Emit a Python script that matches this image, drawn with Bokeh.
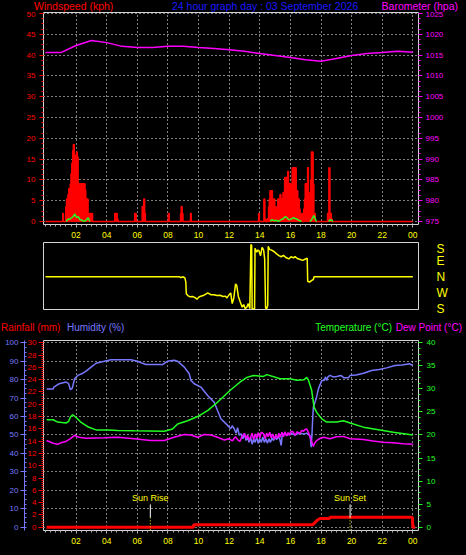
import math
from bokeh.plotting import figure
from bokeh.layouts import column
from bokeh.models import Range1d, LinearAxis, FixedTicker, GlobalInlineStyleSheet, Div
from bokeh.core.properties import value
from bokeh.embed import file_html
from bokeh.resources import INLINE

NaN = float("nan")

# ------------------------------------------------------------------ data
DATE_TITLE = "24 hour graph day : 03 September 2026"
hour_ticks = [2, 4, 6, 8, 10, 12, 14, 16, 18, 20, 22, 24]
hour_labels = ["02", "04", "06", "08", "10", "12", "14", "16", "18", "20", "22", "00"]

wind_ticks = [0, 5, 10, 15, 20, 25, 30, 35, 40, 45, 50]
baro_ticks = [975, 980, 985, 990, 995, 1000, 1005, 1010, 1015, 1020, 1025]
dir_ticks = [-180, -90, 0, 90, 180]
dir_labels = ["S", "W", "N", "E", "S"]
rain_ticks = [0, 2, 4, 6, 8, 10, 12, 14, 16, 18, 20, 22, 24, 26, 28, 30]
hum_ticks = [0, 10, 20, 30, 40, 50, 60, 70, 80, 90, 100]
temp_ticks = [0, 5, 10, 15, 20, 25, 30, 35, 40]

# wind gusts (kph), 3-minute samples, only non-zero samples listed
gust_t = [1.15, 1.35, 1.40, 1.45, 1.50, 1.55, 1.60, 1.65, 1.70, 1.75,
          1.80, 1.85, 1.90, 1.95, 2.00, 2.05, 2.10, 2.15, 2.20, 2.25,
          2.30, 2.35, 2.40, 2.45, 2.50, 2.55, 2.60, 2.65, 2.70, 2.75,
          2.80, 2.85, 2.90, 2.95, 3.00, 3.05, 4.55, 4.60, 4.65, 4.70,
          5.85, 5.90, 6.35, 6.40, 6.45, 6.50, 8.05, 8.85, 8.90, 8.95,
          9.50, 13.95, 14.30, 14.35, 14.50, 14.60, 14.65, 14.70, 14.75, 14.80,
          14.85, 14.90, 14.95, 15.00, 15.05, 15.10, 15.15, 15.20, 15.25, 15.30,
          15.35, 15.40, 15.45, 15.50, 15.55, 15.60, 15.65, 15.70, 15.75, 15.80,
          15.85, 15.90, 15.95, 16.00, 16.05, 16.10, 16.15, 16.20, 16.25, 16.30,
          16.35, 16.40, 16.45, 16.50, 16.55, 16.60, 16.65, 16.70, 16.75, 16.90,
          16.95, 17.00, 17.05, 17.10, 17.15, 17.20, 17.25, 17.30, 17.35, 17.40,
          17.45, 17.50, 17.55, 17.60, 18.45, 18.50, 18.55, 18.60, 18.65, 18.70]
gust_v = [1.9, 3.5, 5.4, 4.0, 6.5, 7.9, 5.5, 9.0, 11.5, 14.0,
          17.0, 18.5, 16.0, 7.5, 12.0, 16.7, 15.5, 9.0, 6.5, 9.1,
          9.1, 7.0, 9.1, 9.1, 6.0, 9.1, 7.5, 5.4, 3.5, 5.4,
          1.9, 0.6, 1.9, 1.9, 0.6, 1.9, 1.9, 1.9, 1.9, 0.6,
          1.9, 1.9, 3.6, 3.6, 5.4, 1.9, 1.9, 1.9, 3.6, 1.9,
          1.9, 1.9, 5.4, 0.6, 0.6, 3.5, 5.4, 7.4, 6.0, 7.4,
          5.4, 4.0, 5.4, 3.5, 3.5, 2.5, 3.5, 5.4, 4.5, 5.4,
          6.5, 5.4, 4.0, 5.4, 7.0, 5.4, 10.6, 9.5, 10.6, 9.1,
          12.0, 9.1, 7.4, 9.1, 6.0, 8.0, 12.9, 10.0, 12.9, 11.0,
          12.9, 7.4, 7.4, 5.4, 5.4, 3.0, 1.9, 1.9, 1.9, 3.0,
          5.4, 9.1, 7.4, 9.1, 12.9, 7.0, 5.4, 5.4, 10.0, 16.7,
          16.7, 9.0, 1.9, 1.9, 1.9, 1.9, 12.9, 1.9, 1.9, 0.6]
GUST_STEP = 0.05

# average wind speed (kph), gaps where calm
avg_t = [1.36, 1.45, 1.6, 1.71, 1.81, 1.92, 2.03, 2.14, 2.25, 2.35,
         2.46, 2.57, 2.68, 2.79, 2.9, NaN, 14.7, 14.76, 14.99, 15.1,
         15.21, 15.36, 15.5, 15.68, 15.9, 16.07, 16.18, 16.4, 16.5, 16.61,
         16.72, NaN, 17.26, 17.37, 17.53, 17.6, 17.7, NaN, 18.5, 18.58,
         18.7, 18.78]
avg_v = [0, 0.5, 0.6, 0.9, 1.2, 1.8, 0.9, 1.2, 0.4, 0.4,
         0.1, 0.1, 0.4, 0.9, 0, NaN, 0, 0.4, 0.2, 0.3,
         0.0, 0.4, 0.6, 1.2, 0.4, 0.6, 0.9, 0.6, 0.4, 0.2,
         0, NaN, 0, 0.3, 1.4, 0.9, 0, NaN, 0, 0.4,
         0.3, 0]

# barometer (hPa), hourly
baro_t = [0, 1, 2, 3, 4, 5, 6, 7, 8, 9, 10, 11, 12,
          13, 14, 15, 16, 17, 18, 19, 20, 21, 22, 23, 24]
baro_v = [1015.6, 1015.6, 1017.3, 1018.5, 1018.0, 1017.1, 1016.8, 1016.8, 1017.1, 1017.1,
          1016.8, 1016.6, 1016.3, 1015.9, 1015.4, 1014.9, 1014.4, 1013.9, 1013.5, 1014.2,
          1014.9, 1015.4, 1015.6, 1015.9, 1015.7]

# wind direction (degrees, N = 0, E = 90, W = -90, S = +/-180)
dir_t = [0.0, 8.76, 8.85, 8.95, 9.1, 9.17, 9.2, 9.3, 9.45, 9.6,
         9.75, 9.9, 10.0, 10.1, 10.3, 10.5, 10.6, 10.8, 11.0, 11.2,
         11.4, 11.6, 11.75, 11.85, 12.0, 12.1, 12.2, 12.3, 12.42, 12.5,
         12.6, 12.72, 12.85, 12.95, 13.05, 13.15, 13.25, 13.35, 13.42, 13.47,
         13.5, 13.6, 13.66, 13.69, 13.8, 13.88, 13.95, 14.05, 14.15, 14.25,
         14.32, 14.38, 14.45, 14.52, 14.55, 14.65, 14.8, 14.95, 15.1, 15.25,
         15.4, 15.55, 15.7, 15.9, 16.05, 16.2, 16.3, 16.45, 16.6, 16.8,
         16.95, 17.1, 17.13, 17.25, 17.4, 17.5, 17.55, 24.0]
dir_v = [0, 0, -5, 0, -5, -30, -95, -105, -112, -110,
         -115, -125, -115, -110, -105, -95, -90, -100, -100, -105,
         -103, -110, -108, -118, -100, -90, -150, -120, -40, -50,
         -110, -140, -170, -155, -178, -170, -150, -178, 180, 175,
         -178, -178, -178, 160, 138, 150, 145, 118, 165, 150,
         100, -175, -178, -160, 170, 152, 148, 140, 128, 118,
         112, 120, 108, 100, 112, 106, 113, 102, 98, 92,
         98, 104, -25, -30, -20, -15, 0, 0]

# rainfall (mm, cumulative)
rain_t = [0.07, 9.65, 9.7, 17.45, 17.55, 17.7, 17.85, 17.95, 18.55, 18.6, 23.97, 24.0, 24.15]
rain_v = [0.0, 0.0, 0.4, 0.4, 0.6, 1.0, 1.3, 1.4, 1.4, 1.6, 1.6, 0.0, 0.0]

# humidity (%)
hum_t = [0.07, 0.5, 0.55, 0.9, 1.34, 1.5, 1.63, 1.75, 1.9, 2.11,
         2.44, 2.65, 2.98, 3.3, 3.85, 4.28, 5.58, 6.02, 6.3, 6.56,
         7.65, 7.98, 8.4, 8.63, 9.07, 9.39, 9.5, 9.72, 10.15, 10.59,
         11.02, 11.24, 11.46, 11.9, 12.1, 12.2, 12.33, 12.45, 12.55, 12.65,
         12.77, 12.9, 13.0, 13.1, 13.2, 13.3, 13.4, 13.5, 13.6, 13.7,
         13.8, 13.9, 14.0, 14.1, 14.2, 14.3, 14.4, 14.5, 14.6, 14.7,
         14.8, 14.9, 15.0, 15.1, 15.2, 15.3, 15.4, 15.45, 15.55, 15.8,
         16.0, 16.3, 16.6, 16.9, 17.07, 17.2, 17.29, 17.36, 17.42, 17.45,
         17.5, 17.68, 17.75, 17.83, 18.05, 18.2, 18.3, 18.37, 18.45, 18.59,
         18.8, 19.03, 19.3, 19.5, 19.79, 19.9, 20.3, 20.77, 21.31, 21.8,
         22.29, 22.83, 23.3, 23.8, 23.9, 24.0]
hum_v = [75.0, 75.0, 76.0, 77.8, 78.7, 78.0, 74.5, 75.4, 80.5, 82.3,
         83.5, 84.6, 86.8, 88.9, 90.0, 90.8, 90.8, 90.0, 89.0, 88.2,
         88.2, 90.0, 90.5, 90.0, 86.8, 83.2, 79.6, 77.8, 76.0, 71.4,
         67.8, 63.3, 58.8, 55.2, 53.4, 55.0, 53.4, 51.0, 54.0, 50.0,
         50.6, 48.0, 51.0, 47.0, 49.0, 46.0, 48.8, 45.0, 48.0, 46.0,
         49.0, 45.5, 48.0, 46.0, 49.0, 46.0, 48.0, 45.5, 48.0, 46.0,
         48.5, 47.0, 49.0, 47.5, 49.0, 48.0, 44.3, 49.0, 50.6, 50.0,
         51.0, 50.0, 51.0, 50.6, 51.0, 50.0, 49.5, 43.4, 52.0, 57.9,
         65.0, 69.6, 72.0, 75.0, 79.6, 79.6, 81.5, 79.6, 81.5, 82.3,
         81.5, 81.7, 82.3, 81.0, 81.0, 82.3, 82.5, 83.5, 85.0, 85.5,
         86.4, 87.7, 88.0, 88.6, 88.0, 88.2]

# temperature (degC)
temp_t = [0.07, 0.5, 0.8, 1.34, 1.5, 1.63, 1.78, 2.0, 2.3, 2.76,
          3.3, 4.06, 4.71, 5.8, 7.76, 8.3, 8.63, 9.28, 9.94, 10.59,
          11.24, 12.07, 12.72, 13.16, 13.59, 14.24, 14.46, 15.33, 15.98, 16.42,
          16.9, 17.07, 17.18, 17.39, 17.55, 17.72, 18.05, 18.37, 19.03, 19.46,
          19.9, 20.77, 21.85, 22.72, 24.0]
temp_v = [23.3, 23.3, 22.8, 22.6, 22.9, 23.9, 24.4, 23.8, 22.8, 21.8,
          21.1, 21.1, 21.0, 20.9, 20.8, 21.3, 22.4, 23.1, 24.0, 25.3,
          27.1, 29.7, 31.5, 32.5, 32.9, 32.7, 33.1, 32.2, 32.2, 31.9,
          32.0, 32.5, 31.9, 29.7, 26.0, 24.9, 23.5, 22.8, 22.8, 23.1,
          22.6, 21.7, 21.1, 20.6, 20.0]

# dew point (degC)
dew_t = [0.07, 0.5, 0.8, 1.0, 1.34, 1.63, 1.9, 2.2, 2.65, 3.85,
         4.71, 5.8, 6.87, 7.76, 8.4, 9.07, 9.5, 9.94, 10.37, 10.8,
         11.24, 11.68, 12.0, 12.2, 12.4, 12.55, 12.7, 12.85, 13.0, 13.1,
         13.2, 13.3, 13.4, 13.5, 13.6, 13.7, 13.8, 13.9, 14.0, 14.1,
         14.24, 14.35, 14.45, 14.55, 14.65, 14.75, 14.85, 14.95, 15.05, 15.15,
         15.25, 15.33, 15.45, 15.55, 15.65, 15.75, 15.85, 15.95, 16.05, 16.2,
         16.3, 16.45, 16.6, 16.75, 16.85, 16.95, 17.07, 17.2, 17.29, 17.4,
         17.5, 17.6, 17.72, 17.9, 18.16, 18.59, 19.0, 19.46, 19.9, 20.77,
         21.4, 22.07, 22.7, 23.37, 24.0]
dew_v = [18.8, 18.2, 18.0, 18.3, 18.6, 19.2, 19.9, 19.5, 19.3, 19.4,
         19.5, 19.2, 18.8, 18.8, 19.5, 20.1, 20.0, 19.5, 20.1, 20.0,
         19.5, 18.9, 19.2, 18.7, 19.6, 19.0, 18.6, 19.8, 20.3, 19.2,
         20.0, 18.9, 19.5, 20.4, 19.0, 20.2, 19.3, 20.5, 19.4, 20.6,
         20.3, 19.2, 20.4, 19.6, 20.6, 19.4, 20.2, 19.1, 20.0, 19.3,
         20.4, 19.5, 20.6, 19.6, 20.7, 19.8, 20.5, 19.9, 20.8, 20.6,
         19.9, 20.7, 20.3, 21.0, 20.8, 21.2, 21.3, 20.4, 19.5, 18.5,
         17.5, 18.3, 18.8, 19.2, 19.5, 19.2, 19.6, 19.7, 19.2, 19.0,
         18.7, 18.4, 18.3, 18.1, 18.0]

sun_times = [6.85, 19.9]
sun_names = ["Sun Rise", "Sun Set"]

# header texts
top_titles = ["Windspeed (kph)", DATE_TITLE, "Barometer (hpa)"]
bottom_titles = ["Rainfall (mm)", "Humidity (%)", "Temperature (°C)", "Dew Point (°C)"]

# ------------------------------------------------------------------ style
FONT = "Liberation Sans"
BG = "#000000"
FRAME = "#d4d4d4"
RED = "#ff0000"
GREEN = "#22ff22"
MAG = "#ff00ff"
HUM = "#7878ff"
TITLE_BLUE = "#1a1aff"
YEL = "#ffff00"
TICK_GREY = "#b0b0b0"
TICK_SIZE = "8px"

X_START, X_END = -0.13, 24.37
MINOR_HOURS = [i / 3 for i in range(0, 73)]
BORDER_L, BORDER_R = 43, 48


def make_fig(height, top, bottom, y_range, axes=True):
    kw = {} if axes else dict(x_axis_location=None, y_axis_location=None)
    return figure(width=466, height=height,
                  x_range=Range1d(X_START, X_END), y_range=y_range,
                  output_backend="svg", toolbar_location=None,
                  min_border_top=top, min_border_bottom=bottom,
                  min_border_left=BORDER_L, min_border_right=BORDER_R,
                  background_fill_color=BG, border_fill_color=BG,
                  outline_line_color=FRAME, outline_line_width=1, **kw)


def make_header(height, size, places, texts, colors):
    spans = []
    for (side, px), t, c in zip(places, texts, colors):
        spans.append(
            f'<span style="position:absolute;{side}:{px}px;top:0;height:{height}px;'
            f'line-height:{height}px;white-space:nowrap;color:{c};">{t}</span>')
    html = (f'<div style="position:relative;width:466px;height:{height}px;'
            f"font-family:'{FONT}';font-size:{size};background:{BG};\">"
            + "".join(spans) + "</div>")
    return Div(text=html, width=466, height=height, margin=0)


def style_axis(ax, color, tick_out=4, minor_out=2, standoff=2, line_color=None, size=TICK_SIZE):
    ax.axis_line_color = line_color
    ax.major_tick_line_color = color
    ax.minor_tick_line_color = color
    ax.major_tick_in = 0
    ax.major_tick_out = tick_out
    ax.minor_tick_in = 0
    ax.minor_tick_out = minor_out
    ax.major_label_text_color = color
    ax.major_label_text_font = FONT
    ax.major_label_text_font_size = size
    ax.major_label_standoff = standoff


def style_xaxis(ax):
    ax.ticker = FixedTicker(ticks=hour_ticks, minor_ticks=MINOR_HOURS)
    ax.major_label_overrides = dict(zip(hour_ticks, hour_labels))
    style_axis(ax, TICK_GREY, tick_out=3, minor_out=2, standoff=4, size="8.5px")
    ax.major_label_text_color = YEL


def style_grid(p, yticks):
    p.xgrid.ticker = FixedTicker(ticks=hour_ticks)
    p.ygrid.ticker = FixedTicker(ticks=yticks)
    p.grid.grid_line_color = "#ffffff"
    p.grid.grid_line_dash = "1 3"
    p.grid.grid_line_width = 1


# ------------------------------------------------------------------ header above the wind chart
h1 = make_header(11, "10.5px", [("left", 34), ("left", 172), ("right", 8)],
                 top_titles, [RED, TITLE_BLUE, MAG])

# ------------------------------------------------------------------ top: wind + barometer
p1 = make_fig(230, 1, 17, Range1d(-0.72, 50.24))
p1.extra_y_ranges = {"baro": Range1d(974.28, 1025.24)}
style_xaxis(p1.xaxis[0])
p1.yaxis[0].ticker = FixedTicker(ticks=wind_ticks, minor_ticks=[i * 1.25 for i in range(41)])
style_axis(p1.yaxis[0], RED, standoff=4)
baro_axis = LinearAxis(y_range_name="baro",
                       ticker=FixedTicker(ticks=baro_ticks, minor_ticks=[975 + i * 1.25 for i in range(41)]))
style_axis(baro_axis, MAG, standoff=3)
p1.add_layout(baro_axis, "right")
style_grid(p1, wind_ticks)

n_bins = int(round(24 / GUST_STEP)) + 1
gust_grid_t = [i * GUST_STEP for i in range(n_bins)]
gust_grid_v = [0.0] * n_bins
for t, v in zip(gust_t, gust_v):
    gust_grid_v[int(round(t / GUST_STEP))] = v

p1.vbar(x=gust_t, top=gust_v, bottom=0, width=GUST_STEP, fill_color=RED, line_color=RED, line_width=1)
p1.step(gust_grid_t, gust_grid_v, mode="center", line_color=RED, line_width=1.5)
p1.line(avg_t, avg_v, line_color=GREEN, line_width=1.5)
p1.line(baro_t, baro_v, y_range_name="baro", line_color=MAG, line_width=1.5)

# ------------------------------------------------------------------ middle: wind direction
p2 = make_fig(77, 1, 9, Range1d(-182.8, 191.7), axes=False)
p2.grid.visible = False
dir_axis = LinearAxis(ticker=FixedTicker(ticks=dir_ticks),
                      major_label_overrides=dict(zip(dir_ticks, dir_labels)))
style_axis(dir_axis, YEL, tick_out=0, minor_out=0, standoff=18, size="12px")
dir_axis.major_tick_line_color = None
dir_axis.minor_tick_line_color = None
p2.add_layout(dir_axis, "right")
p2.line(dir_t, dir_v, line_color=YEL, line_width=1.5)

# ------------------------------------------------------------------ header above the bottom chart
h3 = make_header(20, "10px", [("left", 1), ("left", 67), ("right", 74), ("right", 4)],
                 bottom_titles, [RED, HUM, GREEN, MAG])

# ------------------------------------------------------------------ bottom: rain, humidity, temperature
p3 = make_fig(217, 2, 25, Range1d(-0.54, 30.37))
p3.extra_y_ranges = {"hum": Range1d(-1.79, 101.24), "temp": Range1d(-0.72, 40.5)}
style_xaxis(p3.xaxis[0])

rain_axis = p3.yaxis[0]
rain_axis.ticker = FixedTicker(ticks=rain_ticks, minor_ticks=[i / 3 for i in range(91)])
style_axis(rain_axis, RED, tick_out=5, minor_out=2, standoff=2)

hum_axis = LinearAxis(y_range_name="hum",
                      ticker=FixedTicker(ticks=hum_ticks, minor_ticks=[i * 2.5 for i in range(41)]))
style_axis(hum_axis, HUM, tick_out=4, minor_out=0, standoff=2, line_color=HUM)
hum_axis.minor_tick_in = 2
p3.add_layout(hum_axis, "left")

temp_axis = LinearAxis(y_range_name="temp",
                       ticker=FixedTicker(ticks=temp_ticks, minor_ticks=[i * 1.25 for i in range(33)]))
style_axis(temp_axis, GREEN, tick_out=4, minor_out=2, standoff=4)
p3.add_layout(temp_axis, "right")

style_grid(p3, [h * 30 / 100 for h in hum_ticks])

p3.line(hum_t, hum_v, y_range_name="hum", line_color=HUM, line_width=1.5)
p3.line(temp_t, temp_v, y_range_name="temp", line_color=GREEN, line_width=1.5)
p3.line(dew_t, dew_v, y_range_name="temp", line_color=MAG, line_width=1.5)
p3.line(rain_t, rain_v, line_color=RED, line_width=3)

MARK_TOP, MARK_MID, MARK_LABEL = 3.7, 1.6, 4.72
p3.segment(x0=sun_times, y0=MARK_TOP, x1=sun_times, y1=MARK_MID, line_color="#ffffff", line_width=1)
p3.segment(x0=sun_times, y0=MARK_MID, x1=sun_times, y1=-0.54, line_color=YEL, line_width=1, line_dash="1 2")
p3.text(x=sun_times, y=MARK_LABEL, text=sun_names, text_color=YEL, text_font=value(FONT),
        text_font_size="9px", text_align="center", text_baseline="middle")

layout = column(h1, p1, p2, h3, p3, spacing=0,
                stylesheets=[GlobalInlineStyleSheet(css="html, body { margin: 0; padding: 0; background-color: #000000; overflow: hidden; }")])

html = file_html(layout, INLINE, title="Weather graph")
with open("out.html", "w") as f:
    f.write(html)
